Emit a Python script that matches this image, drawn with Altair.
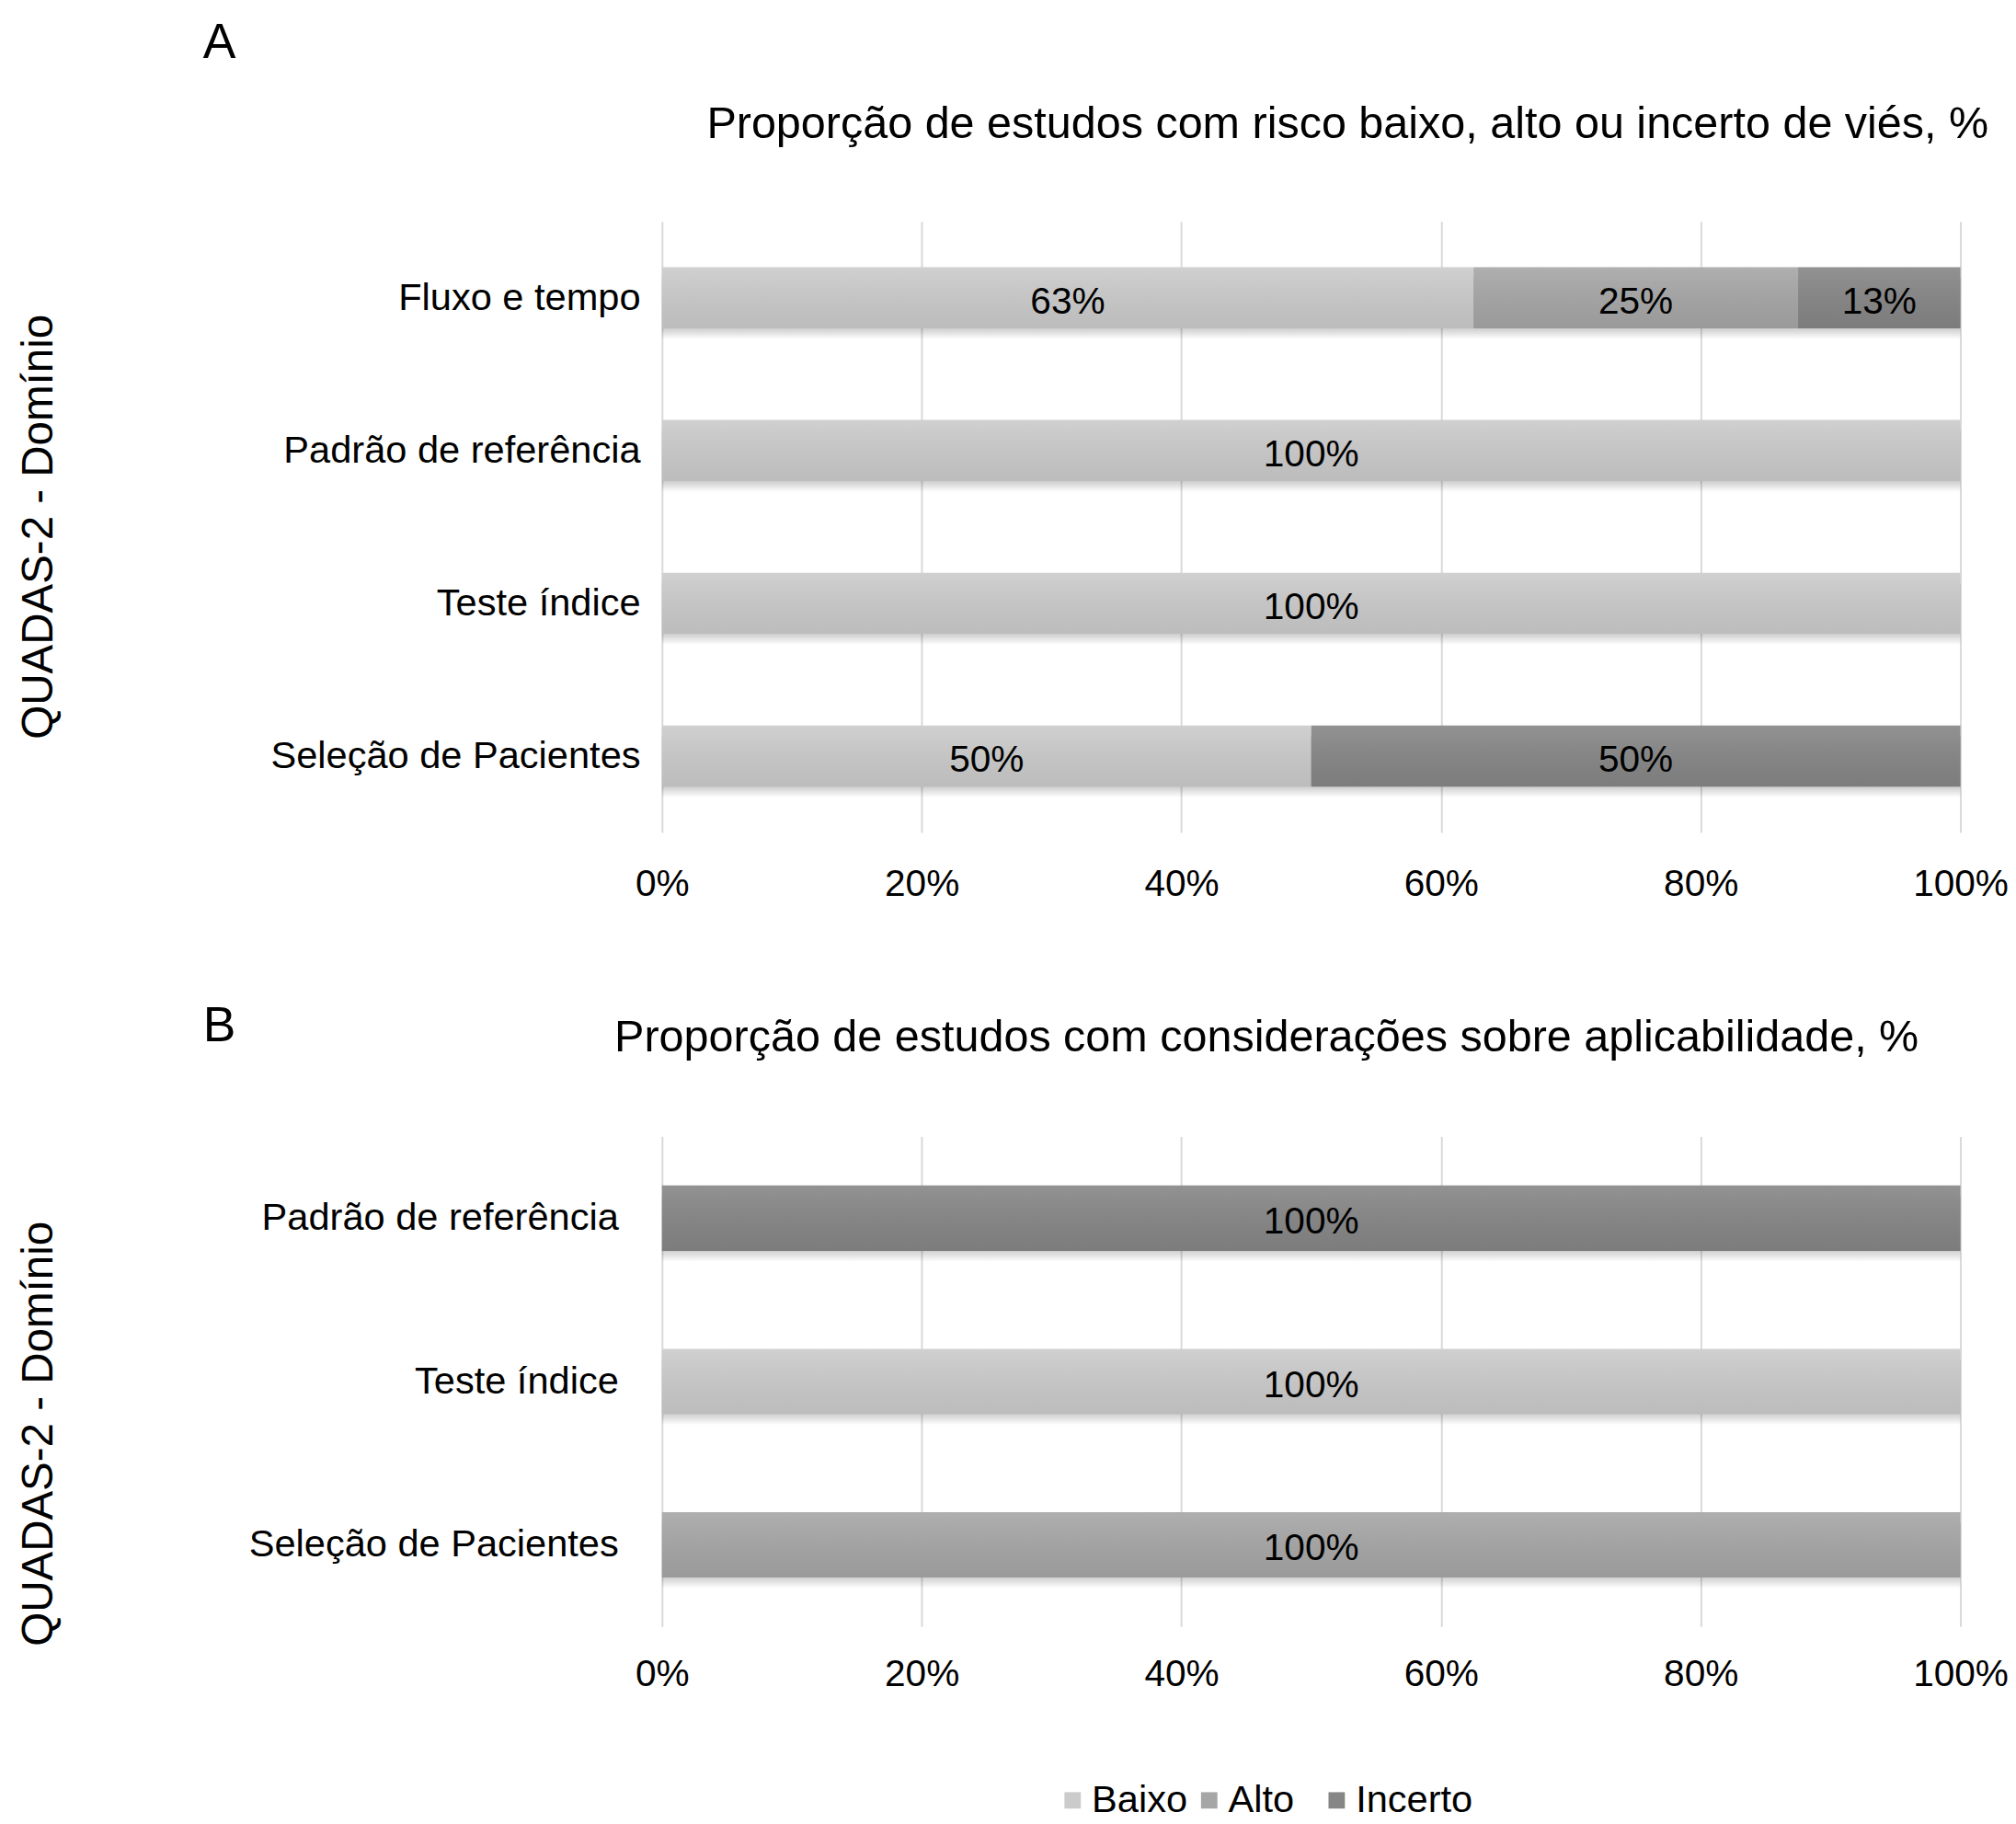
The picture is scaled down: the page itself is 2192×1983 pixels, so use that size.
import altair as alt
import pandas as pd

# ---------------- data ----------------
cats_a = ["Fluxo e tempo", "Padrão de referência", "Teste índice", "Seleção de Pacientes"]
baixo_a = [62.5, 100, 100, 50]
alto_a = [25, 0, 0, 0]
incerto_a = [12.5, 0, 0, 50]

cats_b = ["Padrão de referência", "Teste índice", "Seleção de Pacientes"]
baixo_b = [0, 100, 0]
alto_b = [0, 0, 100]
incerto_b = [100, 0, 0]

levels = ["Baixo", "Alto", "Incerto"]
colors = ["#cbcbcb", "#a6a6a6", "#868686"]

title_a = "Proporção de estudos com risco baixo, alto ou incerto de viés, %"
title_b = "Proporção de estudos com considerações sobre aplicabilidade, %"
y_title = "QUADAS-2 - Domínio"
x_ticks = [0, 20, 40, 60, 80, 100]

FONT = "Liberation Sans"
PLOT_W = 1426


def to_long(cats, b, a, i):
    rows = []
    for c, vb, va, vi in zip(cats, b, a, i):
        for k, (lev, v) in enumerate(zip(levels, (vb, va, vi))):
            if v > 0:
                rows.append({"domain": c, "level": lev, "ord": k, "value": v,
                             "label": f"{int(v + 0.5)}%"})
    return pd.DataFrame(rows)


shadow_grad = alt.Gradient(
    gradient="linear", x1=0, x2=0, y1=0, y2=1,
    stops=[alt.GradientStop(color="rgba(0,0,0,0.30)", offset=0),
           alt.GradientStop(color="rgba(0,0,0,0.22)", offset=0.8),
           alt.GradientStop(color="rgba(0,0,0,0.0)", offset=1)])
shine_grad = alt.Gradient(
    gradient="linear", x1=0, x2=0, y1=0, y2=1,
    stops=[alt.GradientStop(color="rgba(255,255,255,0.10)", offset=0),
           alt.GradientStop(color="rgba(0,0,0,0.07)", offset=1)])


def panel(df, cats, title, title_dx, title_offset, label_pad, x_label_pad, height,
          ytitle_y, legend):
    base = alt.Chart(df).transform_stack(
        stack="value", groupby=["domain"], as_=["x0", "x1"],
        sort=[alt.SortField("ord")]
    ).transform_calculate(xm="(datum.x0 + datum.x1) / 2")

    y = alt.Y("domain:N", sort=cats,
              scale=alt.Scale(paddingInner=0.6, paddingOuter=0.3),
              axis=alt.Axis(title=y_title, titleX=-660, titleY=ytitle_y,
                            titleFontSize=48, titleFontWeight="normal",
                            labelFontSize=42, labelPadding=label_pad,
                            ticks=False, tickSize=0, domain=False, labelLimit=600))
    x = alt.X("x0:Q", scale=alt.Scale(domain=[0, 100]),
              axis=alt.Axis(title=None, values=x_ticks, labelExpr="datum.value + '%'",
                            grid=True, gridColor="#d9d9d9", gridWidth=2,
                            domain=False, ticks=False, tickSize=0,
                            labelFontSize=41, labelPadding=x_label_pad,
                            labelFlush=False))

    shadow = base.mark_bar(color=shadow_grad, yOffset=12).encode(x=x, x2="x1:Q", y=y)
    bars = base.mark_bar().encode(
        x=x, x2="x1:Q", y=y,
        color=alt.Color("level:N", scale=alt.Scale(domain=levels, range=colors),
                        legend=legend))
    shine = base.mark_bar(color=shine_grad).encode(x=x, x2="x1:Q", y=y)
    text = base.mark_text(fontSize=41, font=FONT, color="black", dy=5).encode(
        x="xm:Q", y=y, text="label:N")

    return alt.layer(shadow, bars, shine, text).properties(
        width=PLOT_W, height=height,
        title=alt.TitleParams(text=title, anchor="middle", frame="group",
                              fontSize=49, font=FONT, fontWeight="normal",
                              offset=title_offset, dx=title_dx, color="black"))


legend_b = alt.Legend(orient="none", legendX=430, legendY=708, direction="horizontal",
                      title=None, symbolType="square", symbolSize=324,
                      symbolStrokeWidth=0, labelFontSize=42, labelFont=FONT,
                      labelColor="black", columnPadding=2, labelOffset=0,
                      labelExpr="datum.label == 'Alto' ? 'Alto\u00a0\u00a0\u200b' : datum.label")

layer_a = panel(to_long(cats_a, baixo_a, alto_a, incerto_a), cats_a, title_a,
                40, 82, 24, 37, 671, 335, None)
layer_b = panel(to_long(cats_b, baixo_b, alto_b, incerto_b), cats_b, title_b,
                -49, 84, 48, 33, 538, 269 + 57, legend_b)

pa = alt.vconcat(layer_a, title=alt.TitleParams(
    "A", anchor="start", frame="bounds", fontSize=54, font=FONT,
    fontWeight="normal", dx=204, offset=37, color="black"))
pb = alt.vconcat(layer_b, title=alt.TitleParams(
    "B", anchor="start", frame="bounds", fontSize=54, font=FONT,
    fontWeight="normal", dx=204, offset=-39, color="black"))

chart = alt.vconcat(pa, pb, spacing=109).resolve_scale(color="independent").properties(
    padding={"left": 11, "top": 3, "right": 0, "bottom": 3}
).configure_view(stroke=None).configure_axis(
    labelFont=FONT, titleFont=FONT, labelColor="black", titleColor="black"
)

chart.save("out.html", embed_options={"renderer": "svg", "actions": False})
